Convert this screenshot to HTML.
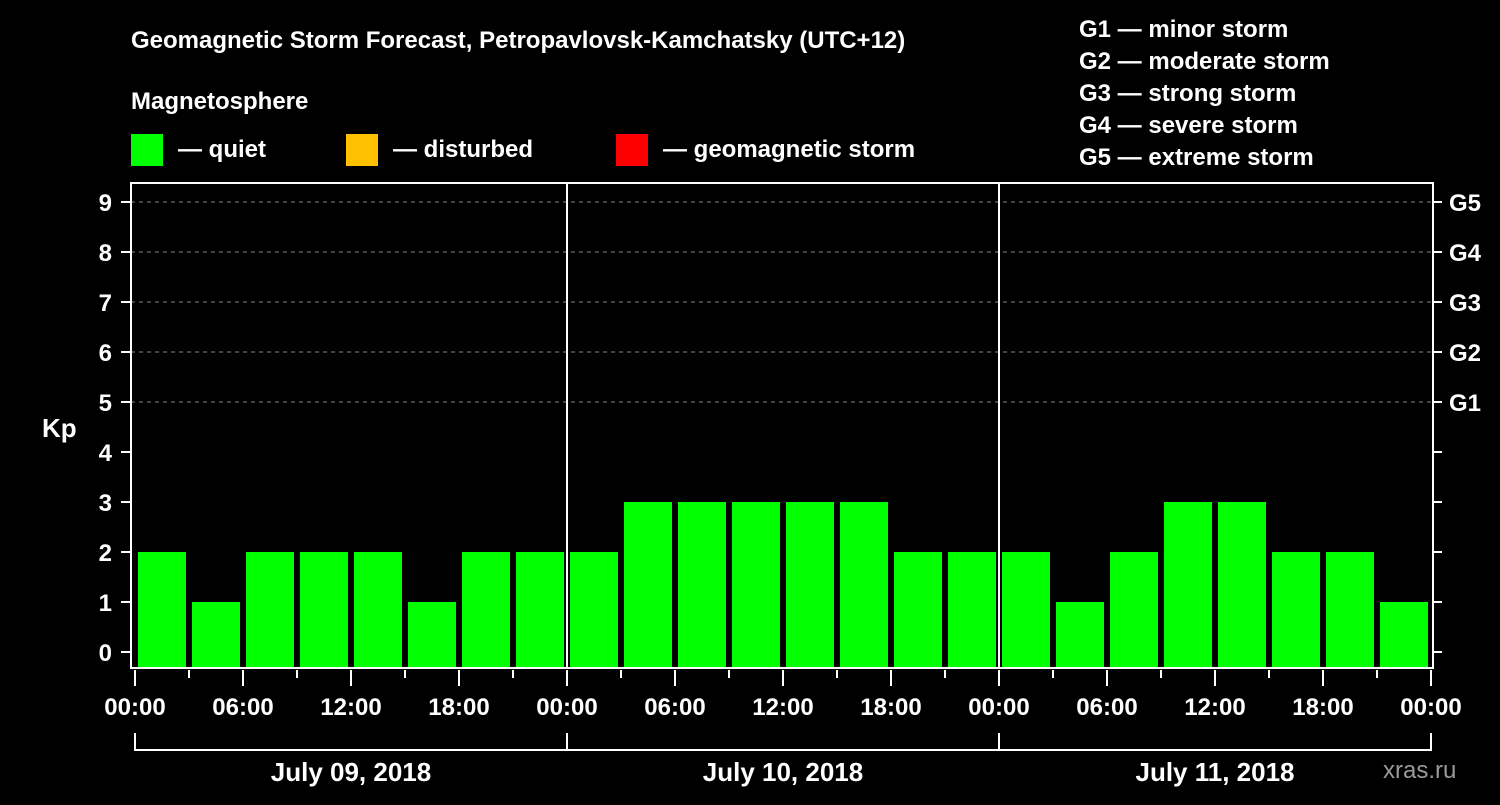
<!DOCTYPE html>
<html><head><meta charset="utf-8"><style>
body{margin:0;background:#000;}
svg text{font-family:"Liberation Sans",sans-serif;font-weight:bold;fill:#fff;}
</style></head><body>
<svg id="c" width="1500" height="800" xmlns="http://www.w3.org/2000/svg">
<rect width="1500" height="800" fill="#000"/>
<text x="131" y="48" font-size="24">Geomagnetic Storm Forecast, Petropavlovsk-Kamchatsky (UTC+12)</text>
<text x="131" y="109" font-size="24">Magnetosphere</text>
<g><rect x="131" y="134" width="32" height="32" fill="#00ff00"/><text x="178" y="157" font-size="24">— quiet</text></g>
<g><rect x="346" y="134" width="32" height="32" fill="#ffc000"/><text x="393" y="157" font-size="24">— disturbed</text></g>
<g><rect x="616" y="134" width="32" height="32" fill="#ff0000"/><text x="663" y="157" font-size="24">— geomagnetic storm</text></g>
<g font-size="24">
<text x="1079" y="37">G1 — minor storm</text>
<text x="1079" y="69">G2 — moderate storm</text>
<text x="1079" y="101">G3 — strong storm</text>
<text x="1079" y="133">G4 — severe storm</text>
<text x="1079" y="165">G5 — extreme storm</text>
</g>
<text x="42" y="437" font-size="26">Kp</text>
<text x="1383" y="778" font-size="24" fill="#999" style="fill:#9a9a9a;font-weight:normal">xras.ru</text>
<g id="grid"></g><g id="bars"></g><g id="axes"></g>
</svg>
<script>
const dayLabels=["July 09, 2018","July 10, 2018","July 11, 2018"];
const kpValues=[2,1,2,2,2,1,2,2, 2,3,3,3,3,3,2,2, 2,1,2,3,3,2,2,1];
const yTicks=[0,1,2,3,4,5,6,7,8,9];
const gLabels=["G1","G2","G3","G4","G5"];
const gLevels=[5,6,7,8,9];
const hourLabels=["00:00","06:00","12:00","18:00"];
const NS="http://www.w3.org/2000/svg";
const X0=135,HPX=18,L=131,R=1433,T=183,B=668;
function xH(h){return X0+h*HPX;}
function yK(v){return 652-50*v;}
function mk(tag,attrs,parent){const e=document.createElementNS(NS,tag);for(const k in attrs)e.setAttribute(k,attrs[k]);parent.appendChild(e);return e;}
const grid=document.getElementById('grid'),bars=document.getElementById('bars'),axes=document.getElementById('axes');
gLevels.forEach(v=>{const l=mk('line',{x1:L,x2:R,y1:yK(v),y2:yK(v),stroke:'#888','stroke-dasharray':'4,4','stroke-width':1},grid);

});
kpValues.forEach((v,i)=>{const x=xH(i*3);const c=v>=5?'#ff0000':(v>=4?'#ffc000':'#00ff00');
const r=mk('rect',{x:x+3,y:yK(v),width:48,height:B-yK(v),fill:c},bars);

});
[1,2].forEach(d=>{const l=mk('line',{x1:xH(d*24),x2:xH(d*24),y1:T,y2:B,stroke:'#fff','stroke-width':2},axes);

});
const fr=mk('rect',{x:L,y:T,width:R-L,height:B-T,fill:'none',stroke:'#fff','stroke-width':2},axes);


yTicks.forEach(v=>{mk('line',{x1:121,x2:L,y1:yK(v),y2:yK(v),stroke:'#fff','stroke-width':2},axes);
mk('line',{x1:R,x2:1442,y1:yK(v),y2:yK(v),stroke:'#fff','stroke-width':2},axes);
const t=mk('text',{x:112,y:yK(v)+9,'font-size':24,'text-anchor':'end'},axes);t.textContent=v;

});
gLevels.forEach((v,i)=>{const t=mk('text',{x:1449,y:yK(v)+9,'font-size':24},axes);t.textContent=gLabels[i];

});
for(let h=0;h<=72;h+=3){const major=h%6===0;mk('line',{x1:xH(h),x2:xH(h),y1:670,y2:major?686:678,stroke:'#fff','stroke-width':2},axes);
if(major){const t=mk('text',{x:xH(h),y:715,'font-size':24,'text-anchor':'middle'},axes);t.textContent=hourLabels[(h/6)%4];

}}
mk('path',{d:`M${xH(0)} 733V750H${xH(72)}V733 M${xH(24)} 733V750 M${xH(48)} 733V750`,stroke:'#fff','stroke-width':2,fill:'none'},axes);
dayLabels.forEach((d,i)=>{const t=mk('text',{x:xH(i*24+12),y:781,'font-size':26,'text-anchor':'middle'},axes);t.textContent=d;

});
</script>
</body></html>
